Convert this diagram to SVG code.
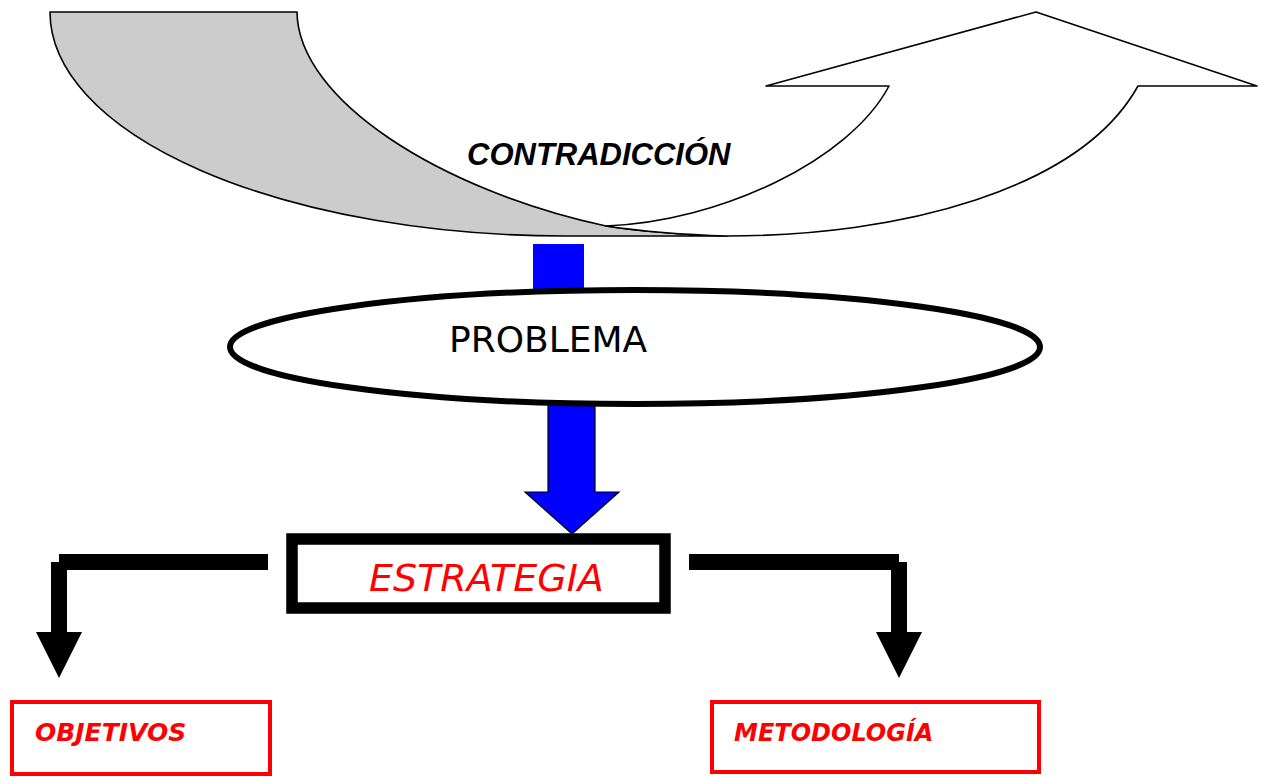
<svg xmlns="http://www.w3.org/2000/svg" width="1263" height="777" viewBox="0 0 1263 777">
<style>
.band{stroke:#000;stroke-width:1.6;stroke-linejoin:round}
.blue{fill:#0000ff}
.blk{fill:#000}
.lbl{fill:#ff0000;font-family:"DejaVu Sans",Verdana,sans-serif;font-style:italic}
</style>
<rect width="1263" height="777" fill="#fff"/>
<g id="contradiccion">
<path class="band" fill="#cccccc" d="M50,12 A515,224 0 0 0 565,236 L727,236 Q660,234 606,226 C440,190 298,100 297,12 Z"/>
<path class="band" fill="#ffffff" d="M606,226 Q660,234 727,236 C900,236 1080,190 1138,86 L1257,86 L1036,12 L766,86 L889,86 C850,160 720,222 606,226 Z"/>
<text x="467" y="165" font-family="'Liberation Sans',Arial,sans-serif" font-weight="bold" font-style="italic" font-size="31" fill="#000">CONTRADICCIÓN</text>
</g>
<g id="connectors">
<rect class="blue" x="533" y="244" width="51" height="50"/>
<path class="blue" stroke="#000" stroke-width="1.2" d="M548,405 L595,405 L595,492 L619,492 L572,534 L525,492 L548,492 Z"/>
<rect class="blk" x="59" y="554" width="209" height="16"/>
<rect class="blk" x="51" y="562" width="16" height="71"/>
<polygon class="blk" points="36,632 82,632 59,678"/>
<rect class="blk" x="689" y="554" width="210" height="16"/>
<rect class="blk" x="891" y="562" width="16" height="71"/>
<polygon class="blk" points="876,632 922,632 899,678"/>
</g>
<g id="problema">
<ellipse cx="635" cy="347" rx="405" ry="57" fill="#fff" stroke="#000" stroke-width="6"/>
<text x="449" y="352" font-family="'DejaVu Sans',Verdana,sans-serif" font-size="36" fill="#000">PROBLEMA</text>
</g>
<g id="estrategia">
<rect x="292" y="539" width="373" height="69" fill="#fff" stroke="#000" stroke-width="11.5"/>
<text class="lbl" x="369" y="591" font-size="38">ESTRATEGIA</text>
</g>
<g id="objetivos">
<rect x="12" y="702" width="258" height="72" fill="none" stroke="#ff0000" stroke-width="4"/>
<text class="lbl" x="35" y="741" font-size="25" font-weight="bold">OBJETIVOS</text>
</g>
<g id="metodologia">
<rect x="712" y="702" width="327" height="70" fill="none" stroke="#ff0000" stroke-width="4"/>
<text class="lbl" x="734" y="741" font-size="24" font-weight="bold">METODOLOGÍA</text>
</g>
</svg>
